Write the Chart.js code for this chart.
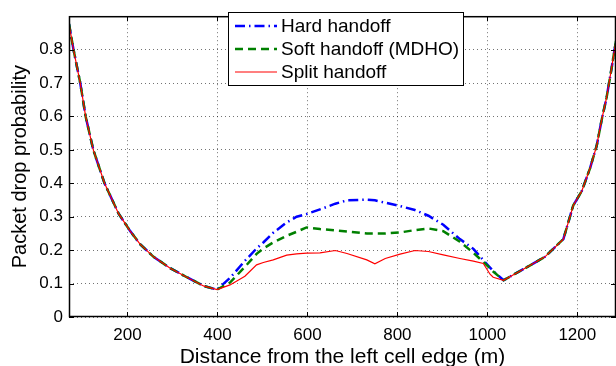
<!DOCTYPE html>
<html>
<head>
  <title>Packet drop probability</title>
  <script src="https://cdn.jsdelivr.net/npm/chart.js"></script>
  <style>
    body { margin: 0; background: #fff; }
    #wrap { width: 616px; height: 366px; }
  </style>
</head>
<body>
  <div id="wrap"><canvas id="chart" width="616" height="366"></canvas></div>

  <script>
    // distance from the left cell edge (m), shared by the three curves
    const distance = [70, 80, 95, 107, 124, 149, 180, 206, 228, 258, 295, 332, 369, 399,
      428, 461, 487, 502, 524, 554, 576, 598, 628, 662, 688, 732, 750, 773, 806, 839, 869, 902, 939, 969, 991, 1006, 1013,
      1036, 1080, 1128, 1169, 1191, 1210, 1228, 1243, 1254, 1265, 1276, 1286];

    const hardHandoff = [0.877, 0.80, 0.70, 0.60, 0.50, 0.40, 0.31, 0.257, 0.218, 0.18, 0.146, 0.119, 0.093, 0.082,
      0.117, 0.168, 0.205, 0.223, 0.252, 0.283, 0.300, 0.308, 0.322, 0.339, 0.349, 0.351, 0.349, 0.342, 0.332, 0.320, 0.303, 0.276, 0.233, 0.204, 0.170, 0.148, 0.138,
      0.110, 0.143, 0.18, 0.233, 0.334, 0.377, 0.444, 0.512, 0.589, 0.656, 0.743, 0.826];

    const softHandoff = [0.877, 0.80, 0.70, 0.60, 0.50, 0.40, 0.31, 0.257, 0.218, 0.18, 0.146, 0.119, 0.093, 0.082,
      0.103, 0.150, 0.189, 0.205, 0.223, 0.243, 0.255, 0.268, 0.263, 0.259, 0.256, 0.250, 0.250, 0.250, 0.253, 0.260, 0.265, 0.257, 0.225, 0.192, 0.165, 0.146, 0.136,
      0.110, 0.143, 0.18, 0.233, 0.334, 0.377, 0.444, 0.512, 0.589, 0.656, 0.743, 0.826];

    const splitHandoff = [0.877, 0.80, 0.70, 0.60, 0.50, 0.40, 0.31, 0.257, 0.218, 0.18, 0.146, 0.119, 0.093, 0.082,
      0.096, 0.122, 0.156, 0.163, 0.171, 0.185, 0.189, 0.191, 0.192, 0.199, 0.190, 0.171, 0.159, 0.175, 0.188, 0.199, 0.196, 0.186, 0.175, 0.167, 0.160, 0.128, 0.119,
      0.110, 0.143, 0.18, 0.233, 0.334, 0.377, 0.444, 0.512, 0.589, 0.656, 0.743, 0.826];

    const seriesLabels = ["Hard handoff", "Soft handoff (MDHO)", "Split handoff"];
    const xTicks = [200, 400, 600, 800, 1000, 1200];
    const yTicks = [0, 0.1, 0.2, 0.3, 0.4, 0.5, 0.6, 0.7, 0.8];

    const FONT = "'Liberation Sans', Arial, Helvetica, sans-serif";

    function toPoints(ys) {
      return ys.map((y, i) => ({ x: distance[i], y: y }));
    }

    // box round the axes, inward tick marks and the framed legend
    const matlabFrame = {
      id: "matlabFrame",
      afterDraw(chart) {
        const ctx = chart.ctx;
        const a = chart.chartArea;
        const xs = chart.scales.x, ys = chart.scales.y;
        ctx.save();
        ctx.strokeStyle = "#000";
        ctx.lineWidth = 1;
        ctx.beginPath();
        xTicks.forEach(v => {
          const px = Math.round(xs.getPixelForValue(v)) + 0.5;
          ctx.moveTo(px, a.bottom); ctx.lineTo(px, a.bottom - 5);
          ctx.moveTo(px, a.top); ctx.lineTo(px, a.top + 5);
        });
        yTicks.forEach(v => {
          const py = Math.round(ys.getPixelForValue(v)) + 0.5;
          ctx.moveTo(a.left, py); ctx.lineTo(a.left + 5, py);
          ctx.moveTo(a.right, py); ctx.lineTo(a.right - 5, py);
        });
        ctx.stroke();
        ctx.lineWidth = 1.5;
        ctx.strokeRect(a.left + 0.5, a.top + 0.5, a.right - a.left - 1, a.bottom - a.top - 1);

        // legend
        const lx = 228.5, ly = 12.5, lw = 235, lh = 73;
        ctx.fillStyle = "#fff";
        ctx.fillRect(lx, ly, lw, lh);
        ctx.lineWidth = 1;
        ctx.strokeRect(lx, ly, lw, lh);
        ctx.font = "19px " + FONT;
        ctx.textBaseline = "middle";
        chart.data.datasets.forEach((ds, i) => {
          const ry = 26 + i * 23;
          ctx.strokeStyle = ds.borderColor;
          ctx.lineWidth = ds.borderWidth;
          ctx.setLineDash(ds.borderDash || []);
          ctx.beginPath();
          ctx.moveTo(235, ry);
          ctx.lineTo(277, ry);
          ctx.stroke();
          ctx.setLineDash([]);
          ctx.fillStyle = "#000";
          ctx.fillText(ds.label, 281, ry + 1);
        });
        ctx.restore();
      }
    };

    const ctx = document.getElementById("chart").getContext("2d");
    const chart = new Chart(ctx, {
      type: "line",
      data: {
        datasets: [
          {
            label: seriesLabels[0],
            data: toPoints(hardHandoff),
            borderColor: "#0000ff",
            borderWidth: 2.5,
            borderDash: [10, 4, 1.5, 4],
            pointRadius: 0,
            fill: false,
            order: 2
          },
          {
            label: seriesLabels[1],
            data: toPoints(softHandoff),
            borderColor: "#008000",
            borderWidth: 2.5,
            borderDash: [8, 5],
            pointRadius: 0,
            fill: false,
            order: 1
          },
          {
            label: seriesLabels[2],
            data: toPoints(splitHandoff),
            borderColor: "#ff0000",
            borderWidth: 1.2,
            pointRadius: 0,
            fill: false,
            order: 0
          }
        ]
      },
      options: {
        responsive: false,
        animation: false,
        layout: { padding: { top: 5, right: 0, left: 0, bottom: 0 } },
        plugins: {
          legend: { display: false },
          tooltip: { enabled: false }
        },
        scales: {
          x: {
            type: "linear",
            min: 70,
            max: 1286,
            afterBuildTicks: s => { s.ticks = xTicks.map(v => ({ value: v })); },
            afterFit: s => { s.height = 49; },
            grid: { color: "rgba(0,0,0,0.55)", drawTicks: false },
            border: { display: false, dash: [1, 3] },
            ticks: { color: "#000", padding: 8, font: { family: FONT, size: 17 }, maxRotation: 0,
              callback: v => String(v) },
            title: { display: true, text: "Distance from the left cell edge (m)", color: "#000",
              font: { family: FONT, size: 21, lineHeight: 0.86 }, padding: { top: 0, bottom: 0 } }
          },
          y: {
            min: 0,
            max: 0.9,
            afterBuildTicks: s => { s.ticks = yTicks.map(v => ({ value: v })); },
            afterFit: s => { s.width = 69; },
            grid: { color: "rgba(0,0,0,0.55)", drawTicks: false },
            border: { display: false, dash: [1, 3] },
            ticks: { color: "#000", padding: 6, font: { family: FONT, size: 17 },
              callback: v => String(v) },
            title: { display: true, text: "Packet drop probability", color: "#000",
              font: { family: FONT, size: 20 }, padding: { top: 8, bottom: 0 } }
          }
        }
      },
      plugins: [matlabFrame]
    });
  </script>
</body>
</html>
